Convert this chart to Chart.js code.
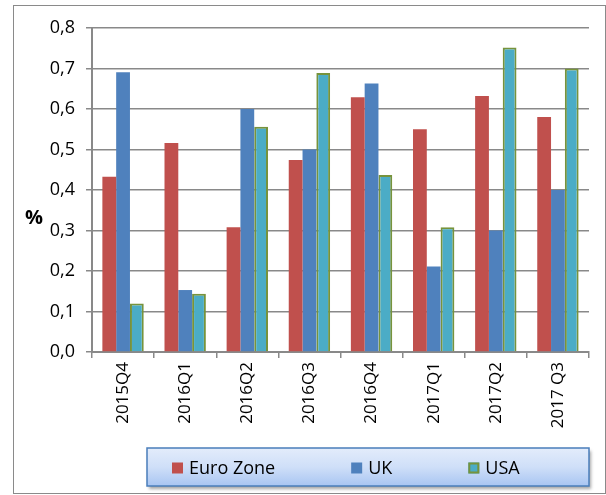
<!DOCTYPE html>
<html>
<head>
<meta charset="utf-8">
<script src="https://cdn.jsdelivr.net/npm/chart.js@4.4.0/dist/chart.umd.min.js"></script>
<style>
  html, body { margin: 0; padding: 0; background: #fff; }
  #frame {
    position: absolute;
    left: 13px;
    top: 5px;
    width: 591px;
    height: 487px;
    border: 1px solid #8a8a8a;
  }
  #chart { display: block; }
</style>
</head>
<body>
<div id="frame"><canvas id="chart" width="591" height="487"></canvas></div>
<script>
const categories = ['2015Q4', '2016Q1', '2016Q2', '2016Q3', '2016Q4', '2017Q1', '2017Q2', '2017 Q3'];
const euroZone = [0.433, 0.516, 0.308, 0.474, 0.629, 0.550, 0.632, 0.580];
const uk = [0.691, 0.153, 0.600, 0.500, 0.663, 0.211, 0.300, 0.400];
const usa = [0.120, 0.144, 0.556, 0.689, 0.437, 0.308, 0.752, 0.700];
const yMin = 0, yMax = 0.8, yStep = 0.1;

const FONT = '"Open Sans", "Liberation Sans", sans-serif';
const gridGray = '#898989';

// "%" title, drawn flat like the original (Chart.js would rotate it)
const yTitlePlugin = {
  id: 'yTitle',
  afterDraw(chart) {
    const c = chart.ctx;
    c.save();
    c.font = 'bold 20px ' + FONT;
    c.fillStyle = '#000';
    c.textAlign = 'center';
    c.textBaseline = 'middle';
    c.fillText('%', 20, 212);
    c.restore();
  }
};

// legend box with the blue gradient, items taken from the datasets
const boxLegendPlugin = {
  id: 'boxLegend',
  afterDraw(chart) {
    const c = chart.ctx;
    const bx = 133, by = 442, bw = 442, bh = 38;
    c.save();
    c.shadowColor = 'rgba(0,0,0,0.35)';
    c.shadowBlur = 3;
    c.shadowOffsetX = 2;
    c.shadowOffsetY = 3;
    const g = c.createLinearGradient(0, by, 0, by + bh);
    g.addColorStop(0, '#e3ecfb');
    g.addColorStop(0.5, '#cfdff8');
    g.addColorStop(1, '#a8c5f2');
    c.fillStyle = g;
    c.fillRect(bx, by, bw, bh);
    c.restore();

    c.save();
    c.strokeStyle = '#4a7ebb';
    c.lineWidth = 1.5;
    c.strokeRect(bx, by, bw, bh);

    c.font = '18px ' + FONT;
    c.textBaseline = 'middle';
    c.textAlign = 'left';
    let x = 158;
    const sq = 11, yMid = 462;
    chart.data.datasets.forEach(ds => {
      c.fillStyle = ds.backgroundColor;
      c.fillRect(x, yMid - sq / 2, sq, sq);
      if (ds.borderWidth) {
        c.strokeStyle = ds.borderColor;
        c.lineWidth = 2;
        c.strokeRect(x + 1, yMid - sq / 2 + 1, sq - 2, sq - 2);
      }
      x += sq + 6;
      c.fillStyle = '#000';
      c.fillText(ds.label, x, yMid + 1);
      x += c.measureText(ds.label).width + 76;
    });
    c.restore();
  }
};

const ctx = document.getElementById('chart').getContext('2d');
new Chart(ctx, {
  type: 'bar',
  data: {
    labels: categories,
    datasets: [
      { label: 'Euro Zone', data: euroZone, backgroundColor: '#c0504d', borderWidth: 0 },
      { label: 'UK', data: uk, backgroundColor: '#4f81bd', borderWidth: 0 },
      { label: 'USA', data: usa, backgroundColor: '#4bacc6', borderColor: '#77933c', borderWidth: 2 }
    ]
  },
  options: {
    responsive: false,
    animation: false,
    categoryPercentage: 0.666,
    barPercentage: 1.0,
    layout: { padding: { top: 22, right: 16, bottom: 0, left: 0 } },
    plugins: {
      legend: { display: false },
      tooltip: { enabled: false }
    },
    scales: {
      x: {
        afterFit(scale) { scale.height = 141; },
        grid: {
          offset: true,
          drawOnChartArea: false,
          drawTicks: true,
          tickLength: 6,
          color: gridGray,
          lineWidth: 1.5
        },
        border: { color: gridGray, width: 2 },
        ticks: {
          autoSkip: false,
          minRotation: 90,
          maxRotation: 90,
          padding: 4,
          color: '#000',
          font: { family: FONT, size: 17 }
        }
      },
      y: {
        min: yMin,
        max: yMax,
        afterFit(scale) { scale.width = 78; },
        grid: {
          color: gridGray,
          lineWidth: 1.5,
          drawTicks: true,
          tickLength: 6
        },
        border: { color: gridGray, width: 2 },
        ticks: {
          stepSize: yStep,
          padding: 11,
          color: '#000',
          font: { family: FONT, size: 18 },
          callback: v => v.toFixed(1).replace('.', ',')
        }
      }
    }
  },
  plugins: [yTitlePlugin, boxLegendPlugin]
});
</script>
</body>
</html>
